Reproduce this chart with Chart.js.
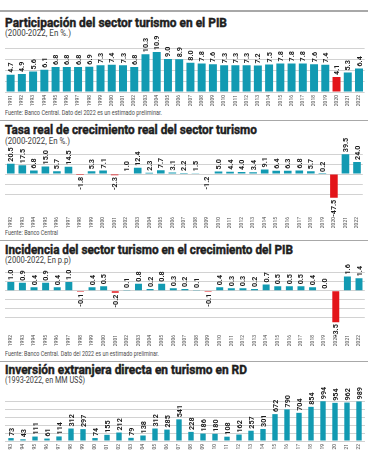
<!DOCTYPE html>
<html>
<head>
<meta charset="utf-8">
<script src="https://cdn.jsdelivr.net/npm/chart.js@4"></script>
<style>
  html, body { margin: 0; padding: 0; background: #fff; }
  body { width: 373px; height: 450px; overflow: hidden; position: relative; font-family: Roboto, 'Noto Sans', sans-serif; }
  .rule { position: absolute; left: 0; width: 368px; background: #a8a8a8; }
  .fit { position: absolute; left: 5px; white-space: nowrap; transform-origin: 0 0; }
  .title { font-size: 13.5px; line-height: 14px; font-weight: bold; color: #1e1e1e; -webkit-text-stroke: 0.45px #1e1e1e; }
  .sub { font-size: 8.5px; line-height: 9px; color: #3c3c3c; }
  .src { font-size: 6.5px; line-height: 7px; color: #4a4a4a; }
  .box { position: absolute; left: 5px; width: 363px; }
</style>
</head>
<body>

<div class="rule" style="top:10px;height:2px"></div>
<div class="fit title" data-w="222" style="top:15px">Participación del sector turismo en el PIB</div>
<div class="fit sub" data-w="66" style="top:29px">(2000-2022, En %.)</div>
<div class="fit src" data-w="157" style="top:110px">Fuente: Banco Central. Dato del 2022 es un estimado preliminar.</div>

<div class="rule" style="top:120px;height:1px"></div>
<div class="fit title" data-w="252" style="top:122px">Tasa real de crecimiento real del sector turismo</div>
<div class="fit sub" data-w="65" style="top:137px">(2000-2022, En %.)</div>
<div class="fit src" data-w="53" style="top:230px">Fuente: Banco Central</div>

<div class="rule" style="top:240px;height:1px"></div>
<div class="fit title" data-w="288" style="top:242px">Incidencia del sector turismo en el crecimiento del PIB</div>
<div class="fit sub" data-w="66" style="top:256px">(2000-2022, En p.p)</div>
<div class="fit src" data-w="154" style="top:351px">Fuente: Banco Central. Dato del 2022 es un estimado preliminar.</div>

<div class="rule" style="top:361px;height:1px"></div>
<div class="fit title" data-w="242" style="top:362px">Inversión extranjera directa en turismo en RD</div>
<div class="fit sub" data-w="80" style="top:376px">(1993-2022, en MM US$)</div>

<div class="box" style="top:15px;height:93px"><canvas id="chartPib"></canvas></div>
<div class="box" style="top:121px;height:109px"><canvas id="chartTasa"></canvas></div>
<div class="box" style="top:242px;height:106px"><canvas id="chartInc"></canvas></div>
<div class="box" style="top:367px;height:90px"><canvas id="chartIed"></canvas></div>

<script>
const FONT = "Roboto, 'Noto Sans', sans-serif";
const TEAL = '#129ab2';
const RED = '#e3151a';
const TOP_PAD = 22;

//categories
const yearsPib = ['1991','1992','1993','1994','1995','1996','1997','1998','1999','2000','2001','2002','2003','2004','2005','2006',
  '2007','2008','2009','2010','2011','2012','2013','2014','2015','2016','2017','2018','2019','2020','2021','2022'];
const yearsTasa = ['1992','1993','1994','1995','1996','1997','1998','1999','2000','2001','2002','2003','2004','2005','2006',
  '2007','2008','2009','2010','2011','2012','2013','2014','2015','2016','2017','2018','2019','2020','2021','2022'];
const yearsInc = yearsTasa.slice();
const yearsIed = ['1993','1994','1995','1996','1997','1998','1999','2000','2001','2002','2003','2004','2005','2006',
  '2007','2008','2009','2010','2011','2012','2013','2014','2015','2016','2017','2018','2019','2020','2021','2022'];

//series values
const partPib = [4.7, 4.9, 5.6, 6.1, 6.8, 6.8, 6.8, 6.9, 7.3, 7.4, 7.3, 6.8, 10.3, 10.9, 9.0, 8.9,
  8.0, 7.8, 7.6, 7.3, 7.3, 7.3, 7.2, 7.5, 7.8, 7.8, 7.8, 7.6, 7.4, 4.1, 5.3, 6.4];
const tasaReal = [20.5, 17.5, 6.8, 15.0, 5.7, 14.5, -1.8, 5.3, 7.1, -2.3, 1.0, 12.4, 2.3, 7.7, 3.1,
  2.2, 1.5, -1.2, 5.0, 4.4, 4.0, 3.4, 9.1, 6.4, 6.3, 6.8, 5.7, 0.2, -47.5, 39.5, 24.0];
const incidencia = [1.0, 0.9, 0.4, 0.9, 0.4, 1.0, -0.1, 0.4, 0.5, -0.2, 0.1, 0.8, 0.2, 0.8, 0.3,
  0.2, 0.1, -0.1, 0.4, 0.3, 0.3, 0.2, 0.7, 0.5, 0.5, 0.5, 0.4, 0.0, -3.5, 1.6, 1.4];
const inversion = [73, 43, 111, 61, 114, 312, 297, 74, 155, 212, 79, 138, 312, 285,
  541, 228, 186, 180, 108, 162, 257, 301, 672, 790, 704, 854, 994, 954, 962, 989];

//squeeze the html texts to the narrow width of the original type
document.querySelectorAll('.fit').forEach(el => {
  const w = el.getBoundingClientRect().width;
  el.style.transform = 'scaleX(' + (Number(el.dataset.w) / w) + ')';
});

//draw rotated value labels above (or below) each bar
const valueLabels = {
  id: 'valueLabels',
  afterDatasetsDraw(chart, args, opts) {
    const ctx = chart.ctx;
    const vals = chart.data.datasets[0].data;
    ctx.save();
    ctx.font = 'bold 8px ' + FONT;
    ctx.fillStyle = '#1c1c1c';
    ctx.textBaseline = 'middle';
    chart.getDatasetMeta(0).data.forEach((bar, i) => {
      const v = vals[i];
      const txt = opts.decimals ? v.toFixed(1) : String(v);
      ctx.save();
      ctx.translate(bar.x, v < 0 ? bar.y + 2 : bar.y - 2);
      ctx.rotate(-Math.PI / 2);
      ctx.scale(0.9, 1);
      ctx.textAlign = v < 0 ? 'right' : 'left';
      ctx.fillText(txt, 0, 0.5);
      ctx.restore();
    });
    ctx.restore();
  }
};

function onStep(v, step) {
  return Math.abs(v - Math.round(v / step) * step) < 1e-6;
}

function makeChart(id, labels, values, cfg) {
  const colors = values.map((v, i) => (v < 0 || (cfg.redIdx && cfg.redIdx.includes(i))) ? RED : TEAL);
  return new Chart(document.getElementById(id), {
    type: 'bar',
    data: {
      labels: labels,
      datasets: [{ data: values, backgroundColor: colors, borderWidth: 0,
        categoryPercentage: 1, barPercentage: cfg.barPct }]
    },
    options: {
      responsive: true,
      maintainAspectRatio: false,
      animation: false,
      layout: { padding: { top: TOP_PAD, left: 0, right: 0, bottom: 0 } },
      plugins: { legend: { display: false }, tooltip: { enabled: false }, valueLabels: { decimals: cfg.decimals } },
      scales: {
        x: {
          grid: { display: false, drawTicks: false },
          border: { display: false },
          ticks: { autoSkip: false, maxRotation: 90, minRotation: 90, padding: cfg.tickPad || 3,
            color: '#4a4a4a', font: { family: FONT, size: 5 } },
          afterFit: s => { s.height = cfg.xHeight; }
        },
        y: {
          min: cfg.min, max: cfg.max,
          ticks: { display: false, stepSize: cfg.step },
          border: { display: false },
          grid: { drawTicks: false, lineWidth: 1,
            color: c => (onStep(c.tick.value, cfg.step) && c.tick.value <= cfg.gridMax && c.tick.value >= cfg.gridMin) ? '#d2d2d2' : 'rgba(0,0,0,0)' },
          afterFit: s => { s.width = 0; }
        }
      }
    },
    plugins: [valueLabels]
  });
}

makeChart('chartPib', yearsPib, partPib, { min: 0, max: 15, step: 3, gridMin: 0, gridMax: 12,
  barPct: 0.71, decimals: true, xHeight: 16, redIdx: [29] });
makeChart('chartTasa', yearsTasa, tasaReal, { min: -76, max: 62, step: 20, gridMin: -60, gridMax: 40,
  barPct: 0.66, decimals: true, xHeight: 18, tickPad: 5 });
makeChart('chartInc', yearsInc, incidencia, { min: -4.6, max: 3, step: 1, gridMin: -4, gridMax: 2,
  barPct: 0.6, decimals: true, xHeight: 16 });
makeChart('chartIed', yearsIed, inversion, { min: 0, max: 1300, step: 200, gridMin: 0, gridMax: 1200,
  barPct: 0.45, decimals: false, xHeight: 16 });
</script>
</body>
</html>
